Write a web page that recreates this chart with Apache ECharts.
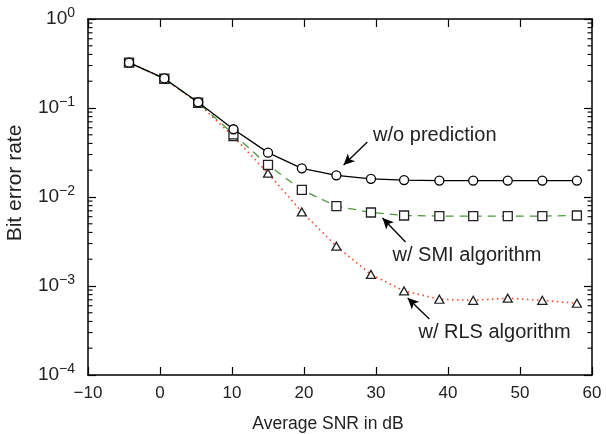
<!DOCTYPE html>
<html>
<head>
<meta charset="utf-8">
<script src="https://cdn.jsdelivr.net/npm/echarts@6/dist/echarts.min.js"></script>
<style>
html,body{margin:0;padding:0;background:#fff;}
#main{width:606px;height:434px;}
</style>
</head>
<body>
<div id="main"></div>
<script>
// 数据
var snr = [-4.3, 0.6, 5.3, 10.2, 15.0, 19.7, 24.5, 29.3, 33.9, 38.8, 43.5, 48.3, 53.1, 57.9];
var berNoPred = [0.323, 0.215, 0.116, 0.0577, 0.0315, 0.021, 0.0175, 0.016, 0.0155, 0.0153, 0.0153, 0.0153, 0.0153, 0.0153];
var berSMI = [0.323, 0.213, 0.115, 0.0506, 0.0229, 0.012, 0.0079, 0.0067, 0.0062, 0.0061, 0.0061, 0.0061, 0.0061, 0.0062];
var berRLS = [0.323, 0.213, 0.113, 0.0476, 0.0185, 0.0068, 0.0028, 0.00135, 0.00088, 0.00071, 0.00069, 0.00073, 0.00069, 0.00064];
var xTicks = [-10, 0, 10, 20, 30, 40, 50, 60];
var yExponents = [0, -1, -2, -3, -4];
var minorTicks = [];
for (var e = -4; e < 0; e++) {
	for (var m = 2; m <= 9; m++) {
		minorTicks.push([m * Math.pow(10, e)]);
	}
}
// 注释 [文字, 箭头尾, 箭头头, 文字位置]
var notes = [
	['w/o prediction', [28.8, 0.0415], [25.5, 0.0229], [29.6, 0.0497]],
	['w/ SMI algorithm', [34.1, 0.00312], [30.9, 0.00581], [32.3, 0.00223]],
	['w/ RLS algorithm', [37.4, 0.000426], [34.4, 0.000733], [35.9, 0.000304]]
];

var FONT = 'Liberation Sans, Arial, Helvetica, sans-serif';

function pairs(ys) {
	var out = [];
	for (var i = 0; i < snr.length; i++) out.push([snr[i], ys[i]]);
	return out;
}

function yLabel(v) {
	var ex = Math.round(Math.log(v) / Math.LN10);
	if (yExponents.indexOf(ex) < 0) return '';
	return '{b|10}{s|' + (ex === 0 ? '0' : '\u2212' + (-ex)) + '}';
}

function noteMarks(n) {
	return {
		markLine: {
			silent: true,
			symbol: ['none', 'arrow'],
			symbolSize: [8, 11],
			label: { show: false },
			lineStyle: { color: '#000', width: 1.3, type: 'solid' },
			data: [[{ coord: n[1] }, { coord: n[2] }]]
		},
		markPoint: {
			silent: true,
			symbol: 'circle',
			symbolSize: 0,
			data: [{
				coord: n[3],
				label: {
					show: true, position: 'right', distance: 0,
					formatter: n[0], color: '#222', fontSize: 20, fontFamily: FONT
				}
			}]
		}
	};
}

var option = {
	animation: false,
	backgroundColor: '#fff',
	grid: { left: 88, right: 14, top: 19, bottom: 59, containLabel: false, outerBoundsMode: 'none' },
	xAxis: [{
		type: 'value', min: -10, max: 60, interval: 10,
		name: 'Average SNR in dB', nameLocation: 'middle', nameGap: 40,
		nameTextStyle: { color: '#222', fontSize: 17.5, fontFamily: FONT, padding: [0, 24, 0, 0] },
		axisLine: { onZero: false, lineStyle: { color: '#000', width: 1.5 } },
		axisTick: { inside: true, length: 8, lineStyle: { color: '#000', width: 1.2 } },
		axisLabel: {
			color: '#222', fontSize: 17, fontFamily: FONT, margin: 10,
			formatter: function (v) { return xTicks.indexOf(v) < 0 ? '' : String(v).replace('-', '\u2212'); }
		},
		splitLine: { show: false }
	}, {
		type: 'value', min: -10, max: 60, interval: 10, position: 'top',
		axisLine: { onZero: false, lineStyle: { color: '#000', width: 1.5 } },
		axisTick: { inside: true, length: 8, lineStyle: { color: '#000', width: 1.2 } },
		axisLabel: { show: false },
		splitLine: { show: false }
	}],
	yAxis: [{
		type: 'log', logBase: 10, min: 1e-4, max: 1,
		name: 'Bit error rate', nameLocation: 'middle', nameGap: 62, nameRotate: 90,
		nameTextStyle: { color: '#222', fontSize: 21, fontFamily: FONT, padding: [0, 0, 0, 28] },
		axisLine: { onZero: false, lineStyle: { color: '#000', width: 1.5 } },
		axisTick: { inside: true, length: 8, lineStyle: { color: '#000', width: 1.2 } },
		axisLabel: {
			margin: 13, formatter: yLabel,
			rich: {
				b: { color: '#222', fontSize: 19, fontFamily: FONT },
				s: { color: '#222', fontSize: 14, fontFamily: FONT, padding: [0, 0, 11, 0] }
			}
		},
		splitLine: { show: false }
	}, {
		type: 'log', logBase: 10, min: 1e-4, max: 1, position: 'right',
		axisLine: { onZero: false, lineStyle: { color: '#000', width: 1.5 } },
		axisTick: { inside: true, length: 8, lineStyle: { color: '#000', width: 1.2 } },
		axisLabel: { show: false },
		splitLine: { show: false }
	}],
	series: [{
		name: 'w/o prediction', type: 'line', data: pairs(berNoPred),
		symbol: 'circle', symbolSize: 9, showAllSymbol: true, z: 5,
		lineStyle: { color: '#000', width: 1.3 },
		itemStyle: { color: '#fff', borderColor: '#000', borderWidth: 1.3 }
	}, {
		name: 'w/ SMI algorithm', type: 'line', data: pairs(berSMI),
		symbol: 'rect', symbolSize: 9, showAllSymbol: true, z: 4,
		lineStyle: { color: '#4a9a3a', width: 1.3, type: [8, 6] },
		itemStyle: { color: '#fff', borderColor: '#222', borderWidth: 1.3 }
	}, {
		name: 'w/ RLS algorithm', type: 'line', data: pairs(berRLS),
		symbol: 'triangle', symbolSize: [9, 8], showAllSymbol: true, z: 3,
		lineStyle: { color: '#f0502e', width: 1.6, type: [1.6, 3.4] },
		itemStyle: { color: '#fff', borderColor: '#222', borderWidth: 1.3 }
	}, {
		name: 'minor', type: 'custom', data: minorTicks, silent: true, clip: false, z: 10,
		encode: { y: 0 },
		renderItem: function (params, api) {
			var v = api.value(0);
			var pl = api.coord([-10, v]);
			var pr = api.coord([60, v]);
			var st = { stroke: '#000', lineWidth: 1.1 };
			return {
				type: 'group',
				children: [
					{ type: 'line', shape: { x1: pl[0], y1: pl[1], x2: pl[0] + 4.5, y2: pl[1] }, style: st },
					{ type: 'line', shape: { x1: pr[0] - 4.5, y1: pr[1], x2: pr[0], y2: pr[1] }, style: st }
				]
			};
		}
	}]
};

for (var i = 0; i < notes.length; i++) {
	var mk = noteMarks(notes[i]);
	option.series[i].markLine = mk.markLine;
	option.series[i].markPoint = mk.markPoint;
}

var myChart = echarts.init(document.getElementById('main'));
myChart.setOption(option);
</script>
</body>
</html>
